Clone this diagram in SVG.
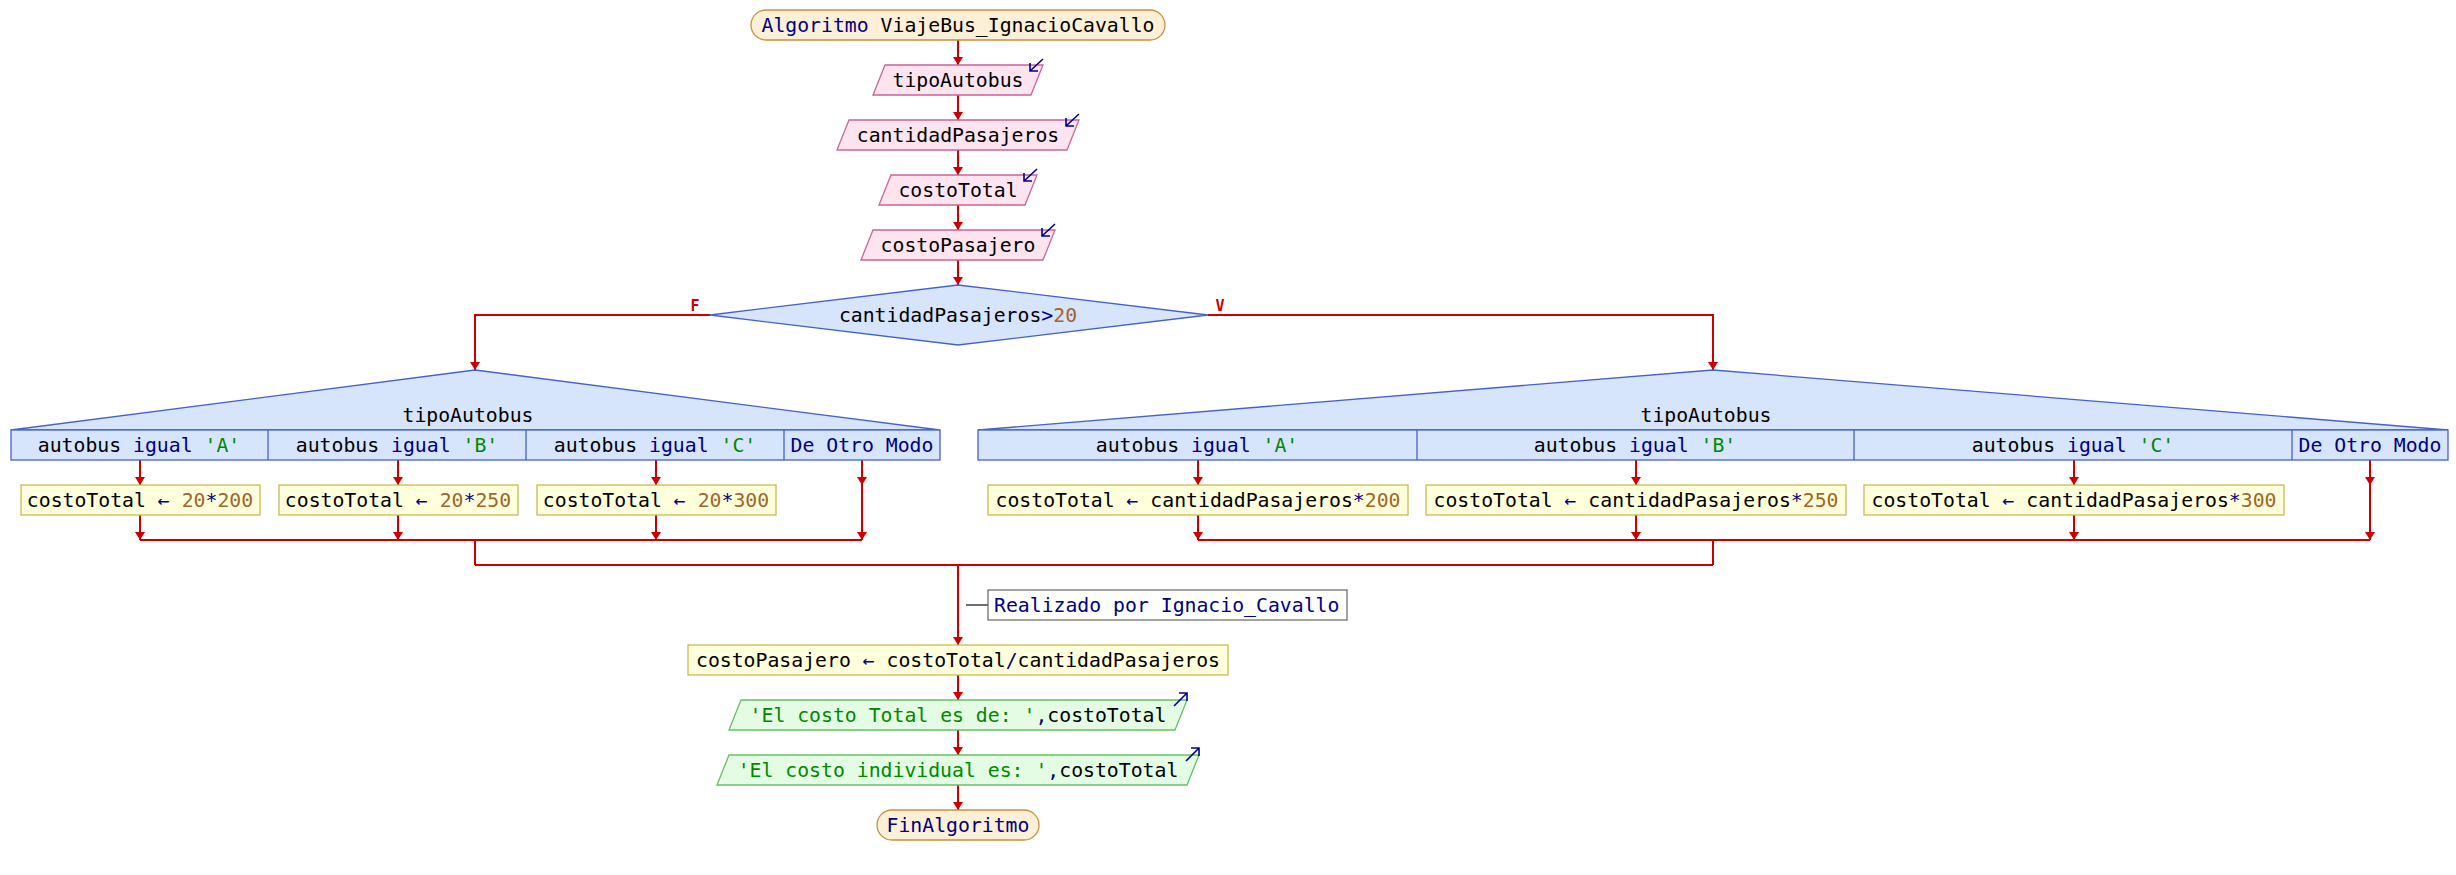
<svg xmlns="http://www.w3.org/2000/svg" width="2456" height="875" viewBox="0 0 2456 875">
<style>
text{font-family:"DejaVu Sans Mono","Liberation Mono",monospace;font-size:19.8px;fill:#000}
.c{text-anchor:middle}
.kw{fill:#000080}
.op{fill:#000080}
.num{fill:#a0662a}
.str{fill:#008800}
.term{fill:#fdf0d6;stroke:#c8903c;stroke-width:1.3}
.inp{fill:#fde4ee;stroke:#c8649a;stroke-width:1.3}
.out{fill:#e4fce4;stroke:#64c064;stroke-width:1.3}
.dec{fill:#d6e4fc;stroke:#4562c8;stroke-width:1.3}
.asg{fill:#ffffdc;stroke:#c8bc50;stroke-width:1.3}
.cmt{fill:#fff;stroke:#707070;stroke-width:1.3}
.icon{fill:none;stroke:#000090;stroke-width:1.6}
.conn path,.conn line{fill:none;stroke:#cc0000;stroke-width:2}
.lbl{font-family:"DejaVu Sans Mono",monospace;font-size:15px;font-weight:bold;fill:#cc0000}
</style>
<defs>
<marker id="ah" markerWidth="8" markerHeight="10" refX="8" refY="5" orient="auto" markerUnits="userSpaceOnUse">
<path d="M0,0 L8,5 L0,10 Z" fill="#cc0000"/>
</marker>
</defs>

<g id="connectors" class="conn">
<line x1="958" y1="40" x2="958" y2="65" marker-end="url(#ah)"/>
<line x1="958" y1="95" x2="958" y2="120" marker-end="url(#ah)"/>
<line x1="958" y1="150" x2="958" y2="175" marker-end="url(#ah)"/>
<line x1="958" y1="205" x2="958" y2="230" marker-end="url(#ah)"/>
<line x1="958" y1="260" x2="958" y2="285" marker-end="url(#ah)"/>
<path d="M710,315 H475 V370" marker-end="url(#ah)"/>
<path d="M1208,315 H1713 V370" marker-end="url(#ah)"/>
<line x1="140" y1="460" x2="140" y2="485" marker-end="url(#ah)"/>
<line x1="140" y1="515" x2="140" y2="540" marker-end="url(#ah)"/>
<line x1="398" y1="460" x2="398" y2="485" marker-end="url(#ah)"/>
<line x1="398" y1="515" x2="398" y2="540" marker-end="url(#ah)"/>
<line x1="656" y1="460" x2="656" y2="485" marker-end="url(#ah)"/>
<line x1="656" y1="515" x2="656" y2="540" marker-end="url(#ah)"/>
<line x1="862" y1="460" x2="862" y2="485" marker-end="url(#ah)"/>
<line x1="862" y1="485" x2="862" y2="540" marker-end="url(#ah)"/>
<line x1="140" y1="540" x2="862" y2="540"/>
<line x1="475" y1="540" x2="475" y2="565"/>
<line x1="1198" y1="460" x2="1198" y2="485" marker-end="url(#ah)"/>
<line x1="1198" y1="515" x2="1198" y2="540" marker-end="url(#ah)"/>
<line x1="1636" y1="460" x2="1636" y2="485" marker-end="url(#ah)"/>
<line x1="1636" y1="515" x2="1636" y2="540" marker-end="url(#ah)"/>
<line x1="2074" y1="460" x2="2074" y2="485" marker-end="url(#ah)"/>
<line x1="2074" y1="515" x2="2074" y2="540" marker-end="url(#ah)"/>
<line x1="2370" y1="460" x2="2370" y2="485" marker-end="url(#ah)"/>
<line x1="2370" y1="485" x2="2370" y2="540" marker-end="url(#ah)"/>
<line x1="1198" y1="540" x2="2370" y2="540"/>
<line x1="1713" y1="540" x2="1713" y2="565"/>
<line x1="475" y1="565" x2="1713" y2="565"/>
<line x1="958" y1="565" x2="958" y2="645" marker-end="url(#ah)"/>
<line x1="958" y1="675" x2="958" y2="700" marker-end="url(#ah)"/>
<line x1="958" y1="730" x2="958" y2="755" marker-end="url(#ah)"/>
<line x1="958" y1="785" x2="958" y2="810" marker-end="url(#ah)"/>
<text class="lbl" x="695" y="311" text-anchor="middle">F</text>
<text class="lbl" x="1220" y="311" text-anchor="middle">V</text>
</g>

<g id="start">
<rect class="term" x="751" y="10" width="414" height="30" rx="15"/>
<text class="c" x="958" y="32"><tspan class="kw">Algoritmo</tspan><tspan> ViajeBus_IgnacioCavallo</tspan></text>
</g>

<g id="read-tipoAutobus">
<polygon class="inp" points="885,65 1043,65 1031,95 873,95"/>
<text class="c" x="958" y="87">tipoAutobus</text>
<path class="icon" d="M1043,59 L1030,71 M1030,63 L1030,71 L1038,71"/>
</g>

<g id="read-cantidadPasajeros">
<polygon class="inp" points="849,120 1079,120 1067,150 837,150"/>
<text class="c" x="958" y="142">cantidadPasajeros</text>
<path class="icon" d="M1079,114 L1066,126 M1066,118 L1066,126 L1074,126"/>
</g>

<g id="read-costoTotal">
<polygon class="inp" points="891,175 1037,175 1025,205 879,205"/>
<text class="c" x="958" y="197">costoTotal</text>
<path class="icon" d="M1037,169 L1024,181 M1024,173 L1024,181 L1032,181"/>
</g>

<g id="read-costoPasajero">
<polygon class="inp" points="873,230 1055,230 1043,260 861,260"/>
<text class="c" x="958" y="252">costoPasajero</text>
<path class="icon" d="M1055,224 L1042,236 M1042,228 L1042,236 L1050,236"/>
</g>

<g id="decision">
<polygon class="dec" points="958,285 1208,315 958,345 710,315"/>
<text class="c" x="958" y="322">cantidadPasajeros<tspan class="op">&gt;</tspan><tspan class="num">20</tspan></text>
</g>

<g id="switch-left">
<polygon class="dec" points="475,370 940,430 11,430"/>
<rect class="dec" x="11" y="430" width="929" height="30"/>
<line x1="268" y1="430" x2="268" y2="460" stroke="#4562c8" stroke-width="1.3"/>
<line x1="526" y1="430" x2="526" y2="460" stroke="#4562c8" stroke-width="1.3"/>
<line x1="784" y1="430" x2="784" y2="460" stroke="#4562c8" stroke-width="1.3"/>
<text class="c" x="468" y="422">tipoAutobus</text>
<text class="c" x="139" y="452">autobus <tspan class="kw">igual</tspan> <tspan class="str">'A'</tspan></text>
<text class="c" x="397" y="452">autobus <tspan class="kw">igual</tspan> <tspan class="str">'B'</tspan></text>
<text class="c" x="655" y="452">autobus <tspan class="kw">igual</tspan> <tspan class="str">'C'</tspan></text>
<text class="c kw" x="862" y="452">De Otro Modo</text>
</g>

<g id="assign-left-A">
<rect class="asg" x="21" y="485" width="239" height="30"/>
<text class="c" x="140" y="507">costoTotal <tspan class="op">←</tspan> <tspan class="num">20</tspan><tspan class="op">*</tspan><tspan class="num">200</tspan></text>
</g>
<g id="assign-left-B">
<rect class="asg" x="279" y="485" width="239" height="30"/>
<text class="c" x="398" y="507">costoTotal <tspan class="op">←</tspan> <tspan class="num">20</tspan><tspan class="op">*</tspan><tspan class="num">250</tspan></text>
</g>
<g id="assign-left-C">
<rect class="asg" x="537" y="485" width="239" height="30"/>
<text class="c" x="656" y="507">costoTotal <tspan class="op">←</tspan> <tspan class="num">20</tspan><tspan class="op">*</tspan><tspan class="num">300</tspan></text>
</g>

<g id="switch-right">
<polygon class="dec" points="1713,370 2448,430 978,430"/>
<rect class="dec" x="978" y="430" width="1470" height="30"/>
<line x1="1417" y1="430" x2="1417" y2="460" stroke="#4562c8" stroke-width="1.3"/>
<line x1="1854" y1="430" x2="1854" y2="460" stroke="#4562c8" stroke-width="1.3"/>
<line x1="2292" y1="430" x2="2292" y2="460" stroke="#4562c8" stroke-width="1.3"/>
<text class="c" x="1706" y="422">tipoAutobus</text>
<text class="c" x="1197" y="452">autobus <tspan class="kw">igual</tspan> <tspan class="str">'A'</tspan></text>
<text class="c" x="1635" y="452">autobus <tspan class="kw">igual</tspan> <tspan class="str">'B'</tspan></text>
<text class="c" x="2073" y="452">autobus <tspan class="kw">igual</tspan> <tspan class="str">'C'</tspan></text>
<text class="c kw" x="2370" y="452">De Otro Modo</text>
</g>

<g id="assign-right-A">
<rect class="asg" x="988" y="485" width="420" height="30"/>
<text class="c" x="1198" y="507">costoTotal <tspan class="op">←</tspan> cantidadPasajeros<tspan class="op">*</tspan><tspan class="num">200</tspan></text>
</g>
<g id="assign-right-B">
<rect class="asg" x="1426" y="485" width="420" height="30"/>
<text class="c" x="1636" y="507">costoTotal <tspan class="op">←</tspan> cantidadPasajeros<tspan class="op">*</tspan><tspan class="num">250</tspan></text>
</g>
<g id="assign-right-C">
<rect class="asg" x="1864" y="485" width="420" height="30"/>
<text class="c" x="2074" y="507">costoTotal <tspan class="op">←</tspan> cantidadPasajeros<tspan class="op">*</tspan><tspan class="num">300</tspan></text>
</g>

<g id="comment">
<line x1="966" y1="605" x2="988" y2="605" stroke="#707070" stroke-width="2"/>
<rect class="cmt" x="988" y="590" width="359" height="30"/>
<text class="kw" x="994" y="612">Realizado por Ignacio_Cavallo</text>
</g>

<g id="assign-costoPasajero">
<rect class="asg" x="688" y="645" width="540" height="30"/>
<text class="c" x="958" y="667">costoPasajero <tspan class="op">←</tspan> costoTotal<tspan class="op">/</tspan>cantidadPasajeros</text>
</g>

<g id="write-total">
<polygon class="out" points="741,700 1187,700 1175,730 729,730"/>
<text class="c" x="958" y="722"><tspan class="str">'El costo Total es de: '</tspan><tspan class="op">,</tspan>costoTotal</text>
<path class="icon" d="M1174,706 L1187,693 M1179,693 L1187,693 L1187,701"/>
</g>

<g id="write-individual">
<polygon class="out" points="729,755 1199,755 1187,785 717,785"/>
<text class="c" x="958" y="777"><tspan class="str">'El costo individual es: '</tspan><tspan class="op">,</tspan>costoTotal</text>
<path class="icon" d="M1186,761 L1199,748 M1191,748 L1199,748 L1199,756"/>
</g>

<g id="end">
<rect class="term" x="877" y="810" width="162" height="30" rx="15"/>
<text class="c kw" x="958" y="832">FinAlgoritmo</text>
</g>
</svg>
